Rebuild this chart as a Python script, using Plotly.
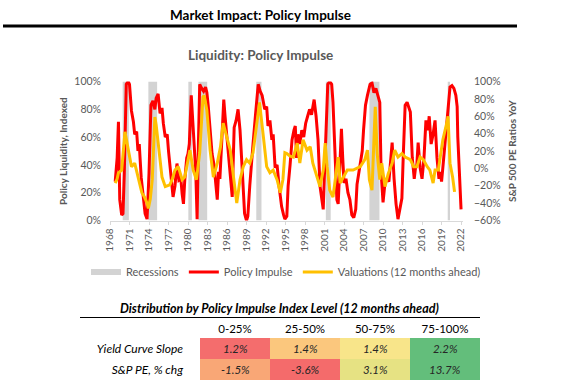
import plotly.graph_objects as go

W, H = 576, 388

# ---------------- data ----------------
red_t = [1968.8,1969.1,1969.3,1969.5,1969.8,1970.0,1970.2,1970.5,1970.8,1971.0,1971.3,1971.6,1971.8,1972.1,1972.3,1972.5,1972.8,1973.1,1973.4,1973.7,
         1974.0,1974.3,1974.6,1974.9,1975.1,1975.4,1975.7,1976.0,1976.2,1976.5,1976.8,1977.0,1977.4,1977.7,1978.0,1978.3,1978.6,1978.9,1979.1,1979.3,
         1979.5,1979.8,1980.0,1980.2,1980.5,1980.8,1981.0,1981.2,1981.4,1981.6,1981.8,1982.1,1982.4,1982.7,1982.9,1983.1,1983.4,1983.7,1984.0,1984.2,
         1984.5,1984.7,1984.9,1985.2,1985.5,1985.7,1986.0,1986.3,1986.5,1986.8,1987.1,1987.4,1987.7,1988.0,1988.3,1988.5,1988.7,1989.0,1989.2,1989.5,
         1989.8,1990.0,1990.4,1990.8,1991.1,1991.4,1991.8,1992.1,1992.3,1992.6,1992.9,1993.1,1993.4,1993.7,1994.0,1994.4,1994.7,1994.9,1995.2,1995.4,
         1995.7,1996.0,1996.3,1996.5,1996.7,1996.9,1997.2,1997.5,1997.8,1998.1,1998.4,1998.7,1999.0,1999.4,1999.7,2000.0,2000.3,2000.6,2000.8,2001.0,
         2001.3,2001.5,2001.8,2002.1,2002.3,2002.6,2002.9,2003.1,2003.3,2003.6,2003.8,2004.0,2004.3,2004.6,2004.9,2005.2,2005.5,2005.8,2006.0,2006.4,
         2006.8,2007.0,2007.3,2007.6,2008.0,2008.3,2008.6,2008.9,2009.2,2009.5,2009.7,2010.0,2010.3,2010.6,2010.9,2011.2,2011.4,2011.7,2012.0,2012.3,
         2012.6,2012.9,2013.1,2013.4,2013.7,2014.0,2014.2,2014.5,2014.8,2015.0,2015.2,2015.4,2015.7,2016.0,2016.3,2016.6,2016.9,2017.1,2017.4,2017.7,
         2018.0,2018.3,2018.6,2018.8,2019.0,2019.2,2019.5,2019.8,2020.0,2020.3,2020.6,2020.9,2021.2,2021.4,2021.5,2021.7,2021.9,2022.0]
red_v = [0.28,0.45,0.71,0.15,0.04,0.05,0.34,0.98,1.00,0.98,0.79,0.71,0.62,0.64,0.50,0.55,0.31,0.17,0.05,0.01,
         0.34,0.83,0.86,0.80,0.88,0.91,0.77,0.81,0.70,0.60,0.62,0.50,0.31,0.17,0.25,0.41,0.29,0.30,0.19,0.12,
         0.29,0.45,0.48,0.55,0.90,0.60,0.50,0.34,0.01,0.55,0.98,0.95,0.93,0.96,0.92,0.83,0.65,0.48,0.40,0.29,
         0.15,0.35,0.30,0.58,0.87,0.75,0.58,0.45,0.29,0.17,0.67,0.72,0.80,0.65,0.40,0.20,0.05,0.00,0.03,0.25,
         0.45,0.55,0.77,0.98,0.93,0.90,0.80,0.82,0.68,0.72,0.58,0.62,0.38,0.40,0.25,0.10,0.04,0.01,0.03,0.25,
         0.40,0.58,0.65,0.68,0.45,0.62,0.55,0.65,0.60,0.70,0.75,0.80,0.76,0.87,0.75,0.58,0.25,0.12,0.08,0.35,
         0.80,0.98,1.00,0.98,0.85,0.50,0.15,0.12,0.40,0.66,0.45,0.27,0.30,0.20,0.15,0.04,0.02,0.08,0.26,0.40,
         0.50,0.65,0.83,0.90,0.98,0.99,0.92,0.95,0.90,0.85,0.35,0.13,0.27,0.30,0.28,0.45,0.56,0.30,0.12,0.01,
         0.10,0.16,0.45,0.83,0.85,0.80,0.78,0.45,0.30,0.38,0.40,0.56,0.38,0.30,0.45,0.72,0.65,0.75,0.55,0.62,
         0.72,0.45,0.30,0.35,0.28,0.38,0.55,0.66,0.80,0.96,0.97,0.95,0.90,0.82,0.60,0.35,0.15,0.08]

val_t = [1968.8,1969.1,1969.3,1969.8,1970.3,1970.8,1971.1,1971.3,1971.8,1972.3,1972.9,1973.3,1973.7,1973.9,1974.2,1974.5,1974.9,1975.1,1975.4,1975.7,
         1976.0,1976.5,1977.2,1977.6,1978.0,1978.5,1978.8,1979.1,1979.5,1979.9,1980.3,1980.8,1981.3,1981.8,1982.3,1982.5,1982.9,1983.4,1983.9,1984.5,
         1985.0,1985.4,1986.0,1986.5,1987.0,1987.5,1988.0,1988.5,1989.0,1989.5,1990.0,1990.6,1991.0,1991.6,1992.1,1992.6,1993.1,1993.7,1994.2,1994.6,
         1994.9,1995.2,1995.7,1996.2,1996.8,1997.2,1997.7,1998.3,1998.8,1999.2,1999.8,2000.3,2000.8,2001.1,2001.4,2001.8,2002.3,2002.9,2003.1,2003.4,
         2003.9,2004.5,2005.4,2006.5,2007.2,2007.6,2007.9,2008.3,2008.8,2009.1,2009.5,2009.8,2010.3,2010.8,2011.4,2011.8,2012.3,2012.9,2013.4,2014.2,
         2014.7,2015.2,2015.7,2016.2,2016.8,2017.2,2017.7,2018.0,2018.5,2018.8,2019.2,2019.8,2020.0,2020.3,2020.7,2021.0]
val_v = [-0.17,-0.12,-0.05,-0.02,0.42,0.21,0.10,0.02,0.06,-0.10,-0.28,-0.33,-0.40,-0.46,-0.35,-0.13,0.59,0.50,0.29,0.10,
         -0.10,-0.21,-0.19,-0.12,-0.02,0.02,-0.05,-0.13,-0.10,0.05,0.21,-0.02,-0.13,0.18,0.82,0.84,0.67,0.21,-0.10,0.06,
         0.25,0.52,0.36,0.21,-0.10,-0.40,-0.13,0.02,0.10,0.06,0.18,0.56,0.76,0.36,0.02,-0.05,-0.02,-0.13,-0.28,-0.13,
         0.18,0.17,0.14,0.13,0.29,0.06,0.33,0.21,0.25,0.06,-0.10,-0.21,-0.02,0.29,0.02,-0.25,-0.33,0.02,0.13,-0.17,
         -0.10,-0.02,-0.02,0.02,0.10,0.21,-0.13,-0.25,0.71,0.17,-0.13,0.06,-0.21,-0.06,0.06,0.21,0.13,0.17,0.13,0.10,
         0.02,0.02,0.13,0.10,0.02,-0.02,-0.17,-0.02,-0.02,0.13,0.33,0.52,0.60,0.06,-0.10,-0.27]

rec_start = [1969.95, 1973.9, 1980.05, 1981.6, 1990.5, 2001.2, 2007.9, 2019.95]
rec_end   = [1970.9, 1975.25, 1980.6, 1982.95, 1991.3, 2001.95, 2009.45, 2020.3]

year_ticks = list(range(1968, 2023, 3))
left_ticks = [0, 0.2, 0.4, 0.6, 0.8, 1.0]
right_ticks = [-0.6, -0.4, -0.2, 0, 0.2, 0.4, 0.6, 0.8, 1.0]

tbl_cols = ["0-25%", "25-50%", "50-75%", "75-100%"]
tbl_rows = ["Yield Curve Slope", "S&P PE, % chg"]
tbl_vals = [["1.2%", "1.4%", "1.4%", "2.2%"],
            ["-1.5%", "-3.6%", "3.1%", "13.7%"]]
tbl_colors = [["#F46D6D", "#FBC77D", "#F8E58A", "#63BE7B"],
              ["#F9A776", "#F46B6B", "#E6E283", "#63BE7B"]]

FONT = "Lato, 'Open Sans', sans-serif"
GREY = "#595959"

def px(x):
    return x / W

def py(y):
    return 1 - y / H

# ---------------- figure ----------------
fig = go.Figure()

# recessions as rectangles
rx, ry = [], []
for s, e in zip(rec_start, rec_end):
    rx += [s, e, e, s, s, None]
    ry += [0, 0, 1, 1, 0, None]
fig.add_trace(go.Scatter(x=rx, y=ry, fill="toself", mode="none",
                         fillcolor="#D3D3D3", name="Recessions", hoverinfo="skip"))

fig.add_trace(go.Scatter(x=red_t, y=red_v, mode="lines", name="Policy Impulse",
                         line=dict(color="#FF0000", width=3)))
fig.add_trace(go.Scatter(x=val_t, y=val_v, mode="lines", name="Valuations (12 months ahead)",
                         line=dict(color="#FFC000", width=3), yaxis="y2"))

# table as a heatmap with one colour per cell
nr, nc = len(tbl_rows), len(tbl_cols)
flat_colors = [c for row in tbl_colors for c in row]
n = len(flat_colors)
cscale = []
for k, c in enumerate(flat_colors):
    cscale.append([k / n, c])
    cscale.append([(k + 1) / n, c])
z = [[i * nc + j for j in range(nc)] for i in range(nr)]
fig.add_trace(go.Heatmap(z=z, x=list(range(nc)), y=list(range(nr)),
                         colorscale=cscale, zmin=-0.5, zmax=n - 0.5,
                         showscale=False, hoverinfo="skip", xaxis="x2", yaxis="y3"))

def ann(text, x, y, size, color, angle=0):
    return dict(text=text, x=px(x), y=py(y), xref="paper", yref="paper",
                xanchor="center", yanchor="middle", showarrow=False,
                textangle=angle, font=dict(size=size, color=color))

annotations = [
    ann("<b>Market Impact: Policy Impulse</b>", 260, 15, 13.5, "black"),
    ann("<b>Liquidity: Policy Impulse</b>", 260, 55, 13.5, GREY),
    ann("<b>Policy Liquidity, Indexed</b>", 63, 151, 10, GREY, -90),
    ann("<b>S&P 500 PE Ratios YoY</b>", 512, 151, 10, GREY, -90),
    ann("<b><i>Distribution by Policy Impulse Index Level (12 months ahead)</i></b>", 279, 308, 12.5, "black"),
]
for i in range(nr):
    for j in range(nc):
        annotations.append(dict(text=f"<i>{tbl_vals[i][j]}</i>", x=j, y=i, xref="x2", yref="y3",
                                showarrow=False, xanchor="center", yanchor="middle",
                                font=dict(size=11.5, color="#262626")))

fig.update_layout(
    width=W, height=H,
    margin=dict(l=0, r=0, t=0, b=0, pad=0, autoexpand=False),
    paper_bgcolor="white", plot_bgcolor="white",
    font=dict(family=FONT, color=GREY),
    showlegend=True,
    legend=dict(orientation="h", x=px(86), y=py(272), yanchor="middle", xanchor="left",
                font=dict(size=11, color=GREY), itemwidth=30, traceorder="normal",
                bgcolor="rgba(0,0,0,0)"),
    xaxis=dict(domain=[px(110), px(463)], range=[1968, 2022.3], automargin=False,
               tickvals=year_ticks, ticktext=[str(y) for y in year_ticks],
               tickangle=-90, tickfont=dict(size=10, color=GREY),
               showgrid=False, zeroline=False, showline=True, linecolor="#D9D9D9",
               ticks="outside", ticklen=3, tickcolor="#D9D9D9"),
    yaxis=dict(domain=[py(220.5), py(81.5)], range=[0, 1], automargin=False,
               tickvals=left_ticks, tickformat=".0%",
               tickfont=dict(size=10.5, color=GREY), showgrid=False, zeroline=False,
               showline=False, ticks="", ticklabelstandoff=8),
    yaxis2=dict(overlaying="y", side="right", range=[-0.6, 1.0], automargin=False,
                tickvals=right_ticks, tickformat=".0%",
                tickfont=dict(size=10.5, color=GREY), showgrid=False, zeroline=False,
                showline=False, ticks="", ticklabelstandoff=10),
    xaxis2=dict(anchor="y3", domain=[px(200), px(480)], range=[-0.5, nc - 0.5], side="top",
                automargin=False, tickvals=list(range(nc)), ticktext=tbl_cols,
                tickfont=dict(size=11.5, color="black"), showgrid=False, zeroline=False,
                showline=False, ticks="", ticklabelstandoff=2, fixedrange=True),
    yaxis3=dict(anchor="x2", domain=[py(380), py(338)], range=[nr - 0.5, -0.5],
                automargin=False, tickvals=list(range(nr)),
                ticktext=[f"<i>{r}</i>" for r in tbl_rows],
                tickfont=dict(size=12, color="black"), showgrid=False, zeroline=False,
                showline=False, ticks="", ticklabelstandoff=16, fixedrange=True),
    annotations=annotations,
    shapes=[
        dict(type="line", xref="paper", yref="paper", x0=px(3), x1=px(517), y0=py(26), y1=py(26),
             line=dict(color="black", width=3)),
        dict(type="line", xref="paper", yref="paper", x0=px(80), x1=px(480), y0=py(317.5), y1=py(317.5),
             line=dict(color="black", width=1)),
    ],
)

fig.write_html("out.html", config={"displayModeBar": False},
               post_script="document.body.style.margin='0';document.body.style.overflow='hidden';")
